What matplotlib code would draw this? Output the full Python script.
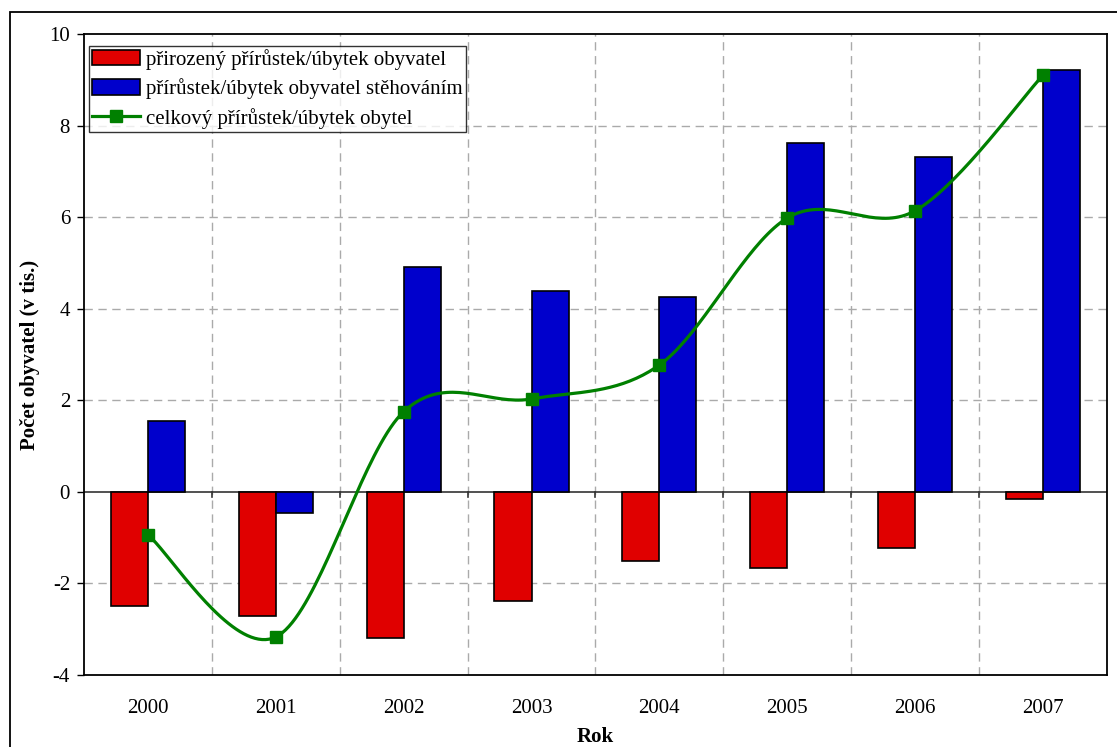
import numpy as np
import matplotlib.pyplot as plt
from matplotlib.patches import Rectangle

plt.rcParams['font.family'] = ['Liberation Serif', 'DejaVu Serif']
plt.rcParams['axes.unicode_minus'] = False

roky = ["2000", "2001", "2002", "2003", "2004", "2005", "2006", "2007"]
prirozeny = [-2.49, -2.71, -3.19, -2.38, -1.51, -1.66, -1.22, -0.15]
stehovani = [1.55, -0.46, 4.91, 4.39, 4.26, 7.62, 7.31, 9.21]
celkovy = [-0.94, -3.17, 1.75, 2.03, 2.77, 5.98, 6.14, 9.10]


def vyhlazeni(x, y, n=40):
    # Catmull-Rom jako v Excelu (hladka cara)
    x = np.asarray(x, float)
    y = np.asarray(y, float)
    px = np.concatenate([[x[0]], x, [x[-1]]])
    py = np.concatenate([[y[0]], y, [y[-1]]])
    xs, ys = [], []
    for i in range(1, len(px) - 2):
        p0 = np.array([px[i], py[i]])
        p3 = np.array([px[i + 1], py[i + 1]])
        c1 = p0 + (np.array([px[i + 1], py[i + 1]]) - np.array([px[i - 1], py[i - 1]])) / 6
        c2 = p3 - (np.array([px[i + 2], py[i + 2]]) - np.array([px[i], py[i]])) / 6
        t = np.linspace(0, 1, n)[:, None]
        b = (1 - t) ** 3 * p0 + 3 * (1 - t) ** 2 * t * c1 + 3 * (1 - t) * t ** 2 * c2 + t ** 3 * p3
        xs.extend(b[:, 0])
        ys.extend(b[:, 1])
    return xs, ys


fig = plt.figure(figsize=(11.17, 7.47), dpi=100)
ax = fig.add_axes([0.0752, 0.0964, 0.9158, 0.8581])

x = np.arange(len(roky))
w = 0.29
b1 = ax.bar(x - w / 2, prirozeny, w, color="#E00000", edgecolor="black", linewidth=1.2, zorder=3)
b2 = ax.bar(x + w / 2, stehovani, w, color="#0000CC", edgecolor="black", linewidth=1.2, zorder=3)
sx, sy = vyhlazeni(x, celkovy)
ax.plot(sx, sy, "-", color="#008000", linewidth=2.3, zorder=4)
ax.plot(x, celkovy, "s", color="#008000", markersize=8.5, zorder=5)
l1, = ax.plot([], [], "-s", color="#008000", linewidth=2.3, markersize=8.5)

ax.set_xlim(-0.5, len(roky) - 0.5)
ax.set_ylim(-4, 10)
ax.set_yticks(np.arange(-4, 11, 2))
ax.set_xticks(x)
ax.set_xticklabels(roky)
ax.tick_params(axis="x", length=0, labelsize=15, pad=17)
ax.tick_params(axis="y", length=5, width=1, labelsize=15, pad=5)

for yy in np.arange(-2, 10, 2):
    if yy != 0:
        ax.axhline(yy, color="#aaaaaa", linestyle=(0, (6, 4)), linewidth=1, zorder=1)
for xx in np.arange(0.5, len(roky) - 0.5, 1):
    ax.axvline(xx, color="#aaaaaa", linestyle=(0, (6, 4)), linewidth=1, zorder=1)
ax.axhline(0, color="#333333", linewidth=1.2, zorder=2)
for xx in np.arange(0.5, len(roky) - 0.5, 1):
    ax.plot([xx, xx], [0, -0.12], color="#333333", linewidth=1.2, zorder=2)

for s in ax.spines.values():
    s.set_linewidth(1.3)

fig.text(0.5332, 1 - 737 / 747, "Rok", fontsize=15, fontweight="bold", ha="center", va="center")
fig.text(30 / 1117, 1 - 355 / 747, "Počet obyvatel (v tis.)", fontsize=15, fontweight="bold",
         ha="center", va="center", rotation=90)

leg = ax.legend([b1, b2, l1],
                ["přirozený přírůstek/úbytek obyvatel",
                 "přírůstek/úbytek obyvatel stěhováním",
                 "celkový přírůstek/úbytek obytel"],
                loc="upper left", bbox_to_anchor=(0.005, 0.982), fontsize=15, frameon=True,
                fancybox=False, edgecolor="black", handlelength=2.3, handleheight=0.75,
                borderpad=0.15, labelspacing=0.42, handletextpad=0.3, borderaxespad=0)
leg.get_frame().set_linewidth(1)

fig.patches.append(Rectangle((10 / 1117, -0.02), 1.02, 1 - 12 / 747 + 0.02, transform=fig.transFigure,
                             fill=False, edgecolor="black", linewidth=1.3))

plt.savefig("out.png", dpi=100)
